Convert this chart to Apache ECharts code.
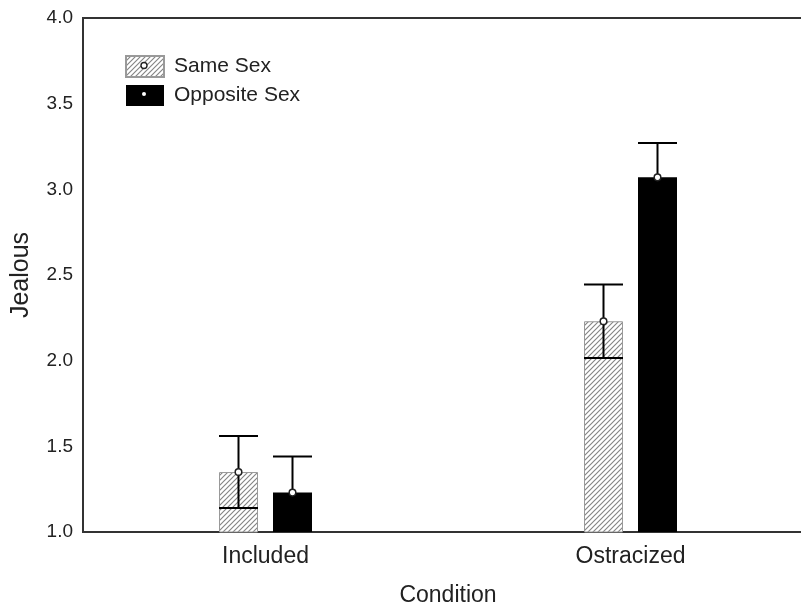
<!DOCTYPE html>
<html>
<head>
<meta charset="utf-8">
<script src="https://cdn.jsdelivr.net/npm/echarts@6/dist/echarts.min.js"></script>
<style>html,body{margin:0;padding:0;background:#fff;overflow:hidden}#c{width:813px;height:605px}</style>
</head>
<body>
<div id="c"></div>
<script>
const categories = ['Included', 'Ostracized'];
const seriesNames = ['Same Sex', 'Opposite Sex'];
const sameSexMeans = [1.35, 2.23];
const sameSexErr = [0.21, 0.215];
const oppositeSexMeans = [1.23, 3.07];
const oppositeSexErr = [0.21, 0.20];
const yTicks = [1.0, 1.5, 2.0, 2.5, 3.0, 3.5, 4.0];

const FONT = 'Liberation Sans, Arial, sans-serif';
const BAR_W = 39, BAR_GAP = 15;
const INK = '#222';

// hatch pattern
const tile = document.createElement('canvas');
tile.width = 5; tile.height = 5;
(function(){
  const g = tile.getContext('2d');
  g.fillStyle = '#fff'; g.fillRect(0,0,5,5);
  g.strokeStyle = '#858585'; g.lineWidth = 1.15;
  g.beginPath();
  g.moveTo(-1,6); g.lineTo(6,-1);
  g.moveTo(-1,1); g.lineTo(1,-1);
  g.moveTo(4,6); g.lineTo(6,4);
  g.stroke();
})();
const hatch = {image: tile, repeat: 'repeat'};

function errSeries(means, errs, offset) {
  return {
    type: 'custom',
    z: 5,
    silent: true,
    data: means.map((m, i) => [i, m, errs[i]]),
    encode: {x: 0, y: 1},
    renderItem: function (params, api) {
      const cat = api.value(0), m = api.value(1), e = api.value(2);
      const c = api.coord([cat, m]);
      const t = api.coord([cat, m + e]);
      const b = api.coord([cat, m - e]);
      const x = c[0] + offset;
      const half = BAR_W / 2;
      const ls = {stroke: '#000', lineWidth: 2};
      return {
        type: 'group',
        children: [
          {type: 'line', shape: {x1: x, y1: b[1], x2: x, y2: t[1]}, style: ls},
          {type: 'line', shape: {x1: x - half, y1: t[1], x2: x + half, y2: t[1]}, style: ls},
          {type: 'line', shape: {x1: x - half, y1: b[1], x2: x + half, y2: b[1]}, style: ls},
          {type: 'circle', shape: {cx: x, cy: c[1], r: 3.3}, style: {fill: '#fff', stroke: INK, lineWidth: 1.5}}
        ]
      };
    }
  };
}

const chart = echarts.init(document.getElementById('c'), null, {renderer: 'canvas'});
const off = (BAR_W + BAR_GAP) / 2;
chart.setOption({
  animation: false,
  backgroundColor: '#fff',
  textStyle: {fontFamily: FONT},
  grid: {left: 83, top: 18, bottom: 73, right: 0, outerBoundsMode: 'none', containLabel: false,
    show: true, borderColor: '#333', borderWidth: 2, backgroundColor: 'transparent'},
  legend: {
    data: seriesNames,
    orient: 'vertical',
    left: 125, top: 55,
    padding: 0,
    itemWidth: 38, itemHeight: 21, itemGap: 7,
    icon: 'rect',
    textStyle: {fontFamily: FONT, fontSize: 21, color: INK, padding: [0, 0, 0, 5]},
    selectedMode: false
  },
  xAxis: {
    type: 'category',
    data: categories,
    axisLine: {show: false},
    axisTick: {show: false},
    axisLabel: {fontFamily: FONT, fontSize: 23, color: INK, margin: 13},
    name: 'Condition',
    nameLocation: 'middle',
    nameGap: 52,
    nameTextStyle: {fontFamily: FONT, fontSize: 23, color: INK}
  },
  yAxis: {
    type: 'value',
    min: yTicks[0], max: yTicks[yTicks.length - 1], interval: 0.5,
    axisLine: {show: false},
    axisTick: {show: false},
    splitLine: {show: false},
    axisLabel: {fontFamily: FONT, fontSize: 19, color: INK, margin: 10, formatter: v => v.toFixed(1)},
    name: 'Jealous',
    nameLocation: 'middle',
    nameGap: 49,
    nameRotate: 90,
    nameTextStyle: {fontFamily: FONT, fontSize: 25, color: INK}
  },
  series: [
    {name: seriesNames[0], type: 'bar', data: sameSexMeans, barWidth: BAR_W, barGap: (BAR_GAP / BAR_W * 100) + '%',
      itemStyle: {color: hatch, borderColor: '#999', borderWidth: 1}},
    {name: seriesNames[1], type: 'bar', data: oppositeSexMeans, barWidth: BAR_W,
      itemStyle: {color: '#000', borderColor: '#000', borderWidth: 0}},
    errSeries(sameSexMeans, sameSexErr, -off),
    errSeries(oppositeSexMeans, oppositeSexErr, off)
  ],
  graphic: [
    {type: 'circle', shape: {cx: 144, cy: 65.5, r: 3}, style: {fill: '#fff', stroke: INK, lineWidth: 1.4}, z: 100},
    {type: 'circle', shape: {cx: 144, cy: 94, r: 2}, style: {fill: '#fff'}, z: 100}
  ]
});
</script>
</body>
</html>
